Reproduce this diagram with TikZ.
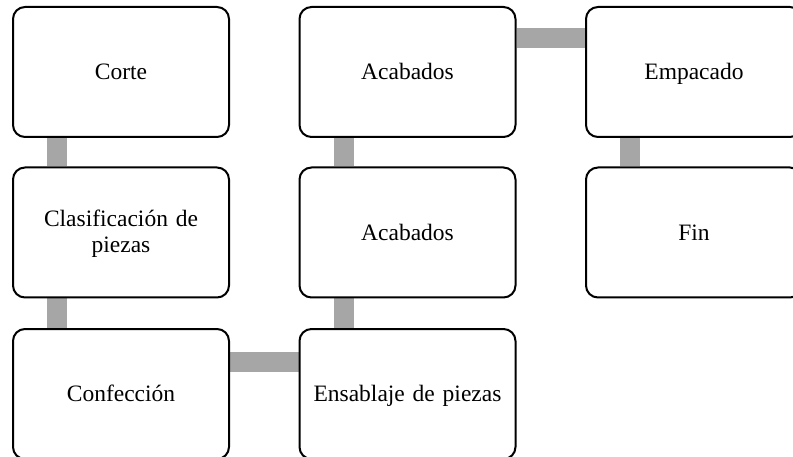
\documentclass[tikz,border=0pt]{standalone}
\usepackage{fontspec}
\setmainfont{Liberation Serif}
\usetikzlibrary{backgrounds}
\definecolor{bargray}{HTML}{A6A6A6}
\newcommand{\boxstrut}{\vrule height 20pt depth 4.4pt width 0pt\relax}
\tikzset{
  procbox/.style={draw=black, line width=2pt, fill=white, rounded corners=12pt,
    minimum width=216pt, minimum height=130pt, inner sep=0pt,
    text width=200pt, align=center,
    font=\fontsize{23.5}{26}\selectfont,
    execute at begin node=\boxstrut, execute at end node=\boxstrut},
  bar/.style={draw=bargray, line width=20pt}
}
\begin{document}
\begin{tikzpicture}[x=1pt,y=-1pt]
\useasboundingbox (0,0) rectangle (793,457);
\clip (0,0) rectangle (793,457);
\node[procbox] (corte) at (121,72) {Corte};
\node[procbox] (clas) at (121,232.5) {Clasificación de\\piezas};
\node[procbox] (conf) at (121,394) {Confección};
\node[procbox] (acab1) at (407.5,72) {Acabados};
\node[procbox] (acab2) at (407.5,232.5) {Acabados};
\node[procbox] (ens) at (407.5,394) {Ensablaje de piezas};
\node[procbox] (emp) at (694,72) {Empacado};
\node[procbox] (fin) at (694,232.5) {Fin};
\begin{scope}[on background layer]
\draw[bar] ([xshift=-64pt]corte.south) -- ([xshift=-64pt]clas.north);
\draw[bar] ([xshift=-64pt]clas.south) -- ([xshift=-64pt]conf.north);
\draw[bar] ([yshift=32pt]conf.east) -- ([yshift=32pt]ens.west);
\draw[bar] ([xshift=-63.5pt]ens.north) -- ([xshift=-63.5pt]acab2.south);
\draw[bar] ([xshift=-63.5pt]acab2.north) -- ([xshift=-63.5pt]acab1.south);
\draw[bar] ([yshift=33.5pt]acab1.east) -- ([yshift=33.5pt]emp.west);
\draw[bar] ([xshift=-64pt]emp.south) -- ([xshift=-64pt]fin.north);
\end{scope}
\end{tikzpicture}
\end{document}
